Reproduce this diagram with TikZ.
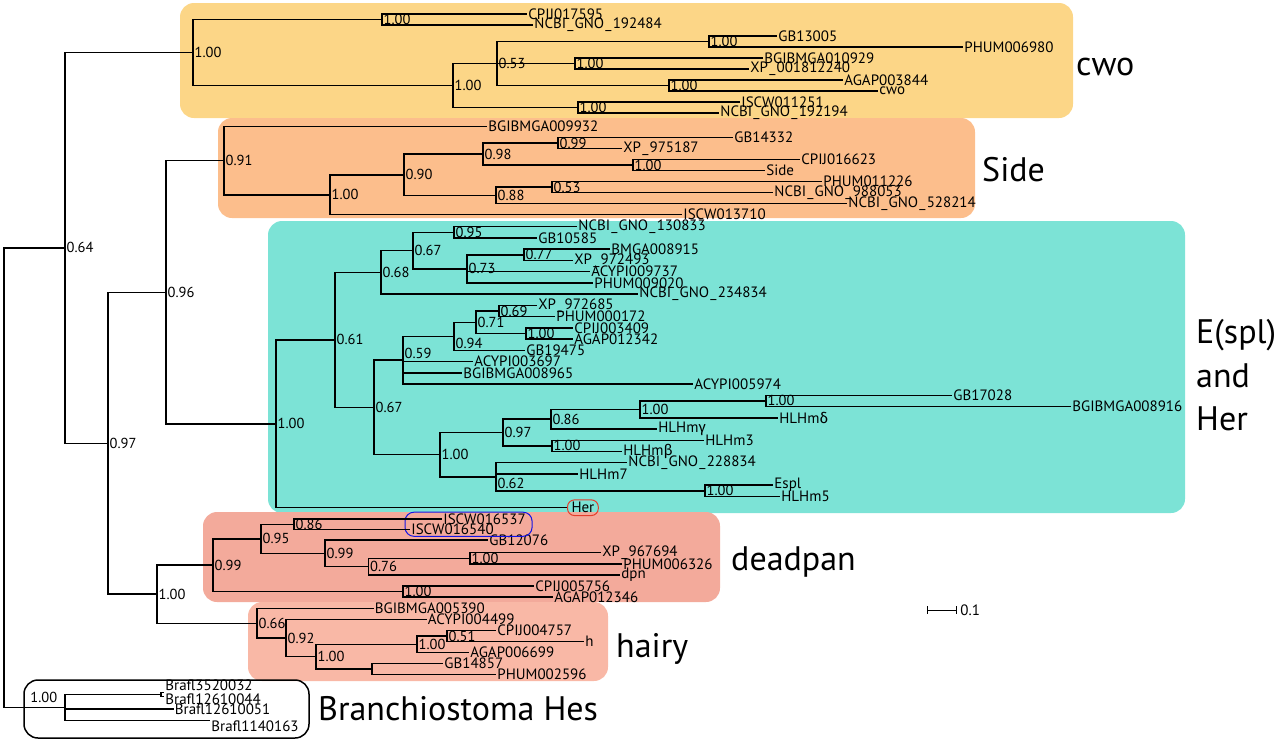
\documentclass[tikz,border=0pt]{standalone}
\usepackage{fontspec}
\setmainfont{PT Sans}
\newfontfamily\grk{Fira Sans}
\usetikzlibrary{fit}
\definecolor{cwofill}{RGB}{252,214,135}
\definecolor{sidefill}{RGB}{252,190,140}
\definecolor{esplfill}{RGB}{124,227,214}
\definecolor{dpnfill}{RGB}{243,170,155}
\definecolor{hairyfill}{RGB}{249,184,166}
\definecolor{herred}{RGB}{228,62,44}
\definecolor{isblue}{RGB}{20,20,230}
\newcommand\us{\kern1.2pt\_\kern1.2pt}
\begin{document}
\begin{tikzpicture}[x=1pt,y=-1pt,
  leaf/.style={anchor=west,inner sep=1.2pt,font=\fontsize{15}{15}\selectfont},
  supp/.style={anchor=west,inner sep=1.5pt,font=\fontsize{14.5}{15}\selectfont},
  br/.style={line width=1.5pt},
  box/.style={rounded corners=14pt},
  clade/.style={anchor=base west,inner sep=0pt,font=\fontsize{34}{40}\selectfont}]
\useasboundingbox (0,0) rectangle (1280,742);
\fill[cwofill,box] (180,3) rectangle (1073,118);
\fill[sidefill,box] (218,118) rectangle (975,218);
\fill[esplfill,box] (268,221) rectangle (1185,513);
\fill[dpnfill,box] (203,512) rectangle (720,602);
\fill[hairyfill,box] (248,602) rectangle (608,681);
\draw[br,box] (24,680) rectangle (309,738);
\node[leaf] (cpij017595) at (527,14) {CPIJ017595};
\node[leaf] (gno192484) at (533,25) {NCBI\us GNO\us 192484};
\node[leaf] (gb13005) at (777,36) {GB13005};
\node[leaf] (phum006980) at (963,47) {PHUM006980};
\node[leaf] (bgi010929) at (763,58) {BGIBMGA010929};
\node[leaf] (xp001812240) at (749,69) {XP\us 001812240};
\node[leaf] (agap003844) at (843,80) {AGAP003844};
\node[leaf] (cwoleaf) at (878,91) {cwo};
\node[leaf] (iscw011251) at (740,102) {ISCW011251};
\node[leaf] (gno192194) at (719,113) {NCBI\us GNO\us 192194};
\coordinate (cwoA) at (382,19.5);
\coordinate (cwoB) at (709,41.5);
\coordinate (cwoC) at (575,63.5);
\coordinate (cwoD) at (669,85.5);
\coordinate (cwoE) at (497,63.5);
\coordinate (cwoF) at (578,107.5);
\coordinate (cwoG) at (453,85.5);
\coordinate (cwo) at (193,52.5);
\draw[br] (cwoA) |- (cpij017595.west) (cwoA) |- (gno192484.west)
  (cwoB) |- (gb13005.west) (cwoB) |- (phum006980.west)
  (cwoC) |- (bgi010929.west) (cwoC) |- (xp001812240.west)
  (cwoD) |- (agap003844.west) (cwoD) |- (cwoleaf.west)
  (cwoF) |- (iscw011251.west) (cwoF) |- (gno192194.west)
  (cwoE) |- (cwoB) (cwoE) |- (cwoC) (cwoE) |- (cwoD)
  (cwoG) |- (cwoE) (cwoG) |- (cwoF)
  (cwo) |- (cwoA) (cwo) |- (cwoG);
\node[supp] (lcwoA) at (cwoA) {1.00};
\node[supp] (lcwoB) at (cwoB) {1.00};
\node[supp] (lcwoC) at (cwoC) {1.00};
\node[supp] (lcwoD) at (cwoD) {1.00};
\node[supp] (lcwoE) at (cwoE) {0.53};
\node[supp] (lcwoF) at (cwoF) {1.00};
\node[supp] (lcwoG) at (cwoG) {1.00};
\node[supp] (lcwo) at (cwo) {1.00};
\node[leaf] (bgi009932) at (487,126.7) {BGIBMGA009932};
\node[leaf] (gb14332) at (733,137.7) {GB14332};
\node[leaf] (xp975187) at (622,148.7) {XP\us 975187};
\node[leaf] (cpij016623) at (800,159.7) {CPIJ016623};
\node[leaf] (sideleaf) at (765,170.7) {Side};
\node[leaf] (phum011226) at (822,181.7) {PHUM011226};
\node[leaf] (gno988053) at (773,192.7) {NCBI\us GNO\us 988053};
\node[leaf] (gno528214) at (847,203.7) {NCBI\us GNO\us 528214};
\node[leaf] (iscw013710) at (682,214.7) {ISCW013710};
\coordinate (sideA) at (558,143.2);
\coordinate (sideB) at (633,165.2);
\coordinate (sideC) at (483,154.2);
\coordinate (sideD) at (552,187.2);
\coordinate (sideE) at (496,195.5);
\coordinate (sideF) at (404,174.8);
\coordinate (sideG) at (330,194.8);
\coordinate (side) at (224,160.7);
\draw[br] (sideA) |- (gb14332.west) (sideA) |- (xp975187.west)
  (sideB) |- (cpij016623.west) (sideB) |- (sideleaf.west)
  (sideC) |- (sideA) (sideC) |- (sideB)
  (sideD) |- (phum011226.west) (sideD) |- (gno988053.west)
  (sideE) |- (sideD) (sideE) |- (gno528214.west)
  (sideF) |- (sideC) (sideF) |- (sideE)
  (sideG) |- (sideF) (sideG) |- (iscw013710.west)
  (side) |- (bgi009932.west) (side) |- (sideG);
\node[supp] (lsideA) at (sideA) {0.99};
\node[supp] (lsideB) at (sideB) {1.00};
\node[supp] (lsideC) at (sideC) {0.98};
\node[supp] (lsideD) at (sideD) {0.53};
\node[supp] (lsideE) at (sideE) {0.88};
\node[supp] (lsideF) at (sideF) {0.90};
\node[supp] (lsideG) at (sideG) {1.00};
\node[supp] (lside) at (side) {0.91};
\node[leaf] (gno130833) at (577,226.7) {NCBI\us GNO\us 130833};
\node[leaf] (gb10585) at (537,237.9) {GB10585};
\node[leaf] (bmga008915) at (610,249.2) {BMGA008915};
\node[leaf] (xp972493) at (573,260.4) {XP\us 972493};
\node[leaf] (acypi009737) at (590,271.7) {ACYPI009737};
\node[leaf] (phum009020) at (593,282.9) {PHUM009020};
\node[leaf] (gno234834) at (638,294.1) {NCBI\us GNO\us 234834};
\node[leaf] (xp972685) at (537,305.4) {XP\us 972685};
\node[leaf] (phum000172) at (555,316.6) {PHUM000172};
\node[leaf] (cpij003409) at (573,327.9) {CPIJ003409};
\node[leaf] (agap012342) at (573,339.1) {AGAP012342};
\node[leaf] (gb19475) at (525,350.3) {GB19475};
\node[leaf] (acypi003697) at (473,361.6) {ACYPI003697};
\node[leaf] (bgi008965) at (462,372.8) {BGIBMGA008965};
\node[leaf] (acypi005974) at (693,384.1) {ACYPI005974};
\node[leaf] (gb17028) at (952,395.3) {GB17028};
\node[leaf] (bgi008916) at (1071,406.5) {BGIBMGA008916};
\node[leaf] (hlhmd) at (778,417.8) {HLHm{\grk δ}};
\node[leaf] (hlhmg) at (657,429.0) {HLHm{\grk γ}};
\node[leaf] (hlhm3) at (704,440.3) {HLHm3};
\node[leaf] (hlhmb) at (622,451.5) {HLHm{\grk β}};
\node[leaf] (gno228834) at (627,462.7) {NCBI\us GNO\us 228834};
\node[leaf] (hlhm7) at (578,474.0) {HLHm7};
\node[leaf] (espleaf) at (773,485.2) {Espl};
\node[leaf] (hlhm5) at (780,496.5) {HLHm5};
\node[leaf,draw=herred,line width=1pt,rounded corners=7pt,inner xsep=4pt,inner ysep=2.5pt] (her) at (567,507.7) {Her};
\coordinate (esplA) at (454,232.3);
\coordinate (esplB) at (524,254.8);
\coordinate (esplC) at (467,268.9);
\coordinate (esplD) at (413,250.6);
\coordinate (esplE) at (381,272.4);
\coordinate (esplF) at (499,311.0);
\coordinate (esplG) at (526,333.5);
\coordinate (esplH) at (476,322.3);
\coordinate (esplI) at (454,336.3);
\coordinate (esplJ) at (403,360.2);
\coordinate (esplK) at (766,400.9);
\coordinate (esplL) at (640,409.4);
\coordinate (esplM) at (551,419.2);
\coordinate (esplN) at (552,445.9);
\coordinate (esplO) at (503,432.6);
\coordinate (esplP) at (705,490.9);
\coordinate (esplQ) at (496,476.8);
\coordinate (esplR) at (440,454.7);
\coordinate (esplS) at (374,407.5);
\coordinate (esplT) at (335,339.9);
\coordinate (espl) at (276,423.8);
\draw[br] (esplA) |- (gno130833.west) (esplA) |- (gb10585.west)
  (esplB) |- (bmga008915.west) (esplB) |- (xp972493.west)
  (esplC) |- (esplB) (esplC) |- (acypi009737.west) (esplC) |- (phum009020.west)
  (esplD) |- (esplA) (esplD) |- (esplC)
  (esplE) |- (esplD) (esplE) |- (gno234834.west)
  (esplF) |- (xp972685.west) (esplF) |- (phum000172.west)
  (esplG) |- (cpij003409.west) (esplG) |- (agap012342.west)
  (esplH) |- (esplF) (esplH) |- (esplG)
  (esplI) |- (esplH) (esplI) |- (gb19475.west)
  (esplJ) |- (esplI) (esplJ) |- (acypi003697.west) (esplJ) |- (bgi008965.west) (esplJ) |- (acypi005974.west)
  (esplK) |- (gb17028.west) (esplK) |- (bgi008916.west)
  (esplL) |- (esplK) (esplL) |- (hlhmd.west)
  (esplM) |- (esplL) (esplM) |- (hlhmg.west)
  (esplN) |- (hlhm3.west) (esplN) |- (hlhmb.west)
  (esplO) |- (esplM) (esplO) |- (esplN)
  (esplP) |- (espleaf.west) (esplP) |- (hlhm5.west)
  (esplQ) |- (gno228834.west) (esplQ) |- (hlhm7.west) (esplQ) |- (esplP)
  (esplR) |- (esplO) (esplR) |- (esplQ)
  (esplS) |- (esplJ) (esplS) |- (esplR)
  (esplT) |- (esplE) (esplT) |- (esplS)
  (espl) |- (esplT) (espl) |- (her.west);
\node[supp] (lesplA) at (esplA) {0.95};
\node[supp] (lesplB) at (esplB) {0.77};
\node[supp] (lesplC) at (esplC) {0.73};
\node[supp] (lesplD) at (esplD) {0.67};
\node[supp] (lesplE) at (esplE) {0.68};
\node[supp] (lesplF) at (esplF) {0.69};
\node[supp] (lesplG) at (esplG) {1.00};
\node[supp] (lesplH) at (esplH) {0.71};
\node[supp,anchor=north west] (lesplI) at (esplI) {0.94};
\node[supp,anchor=south west] (lesplJ) at (esplJ) {0.59};
\node[supp] (lesplK) at (esplK) {1.00};
\node[supp] (lesplL) at (esplL) {1.00};
\node[supp] (lesplM) at (esplM) {0.86};
\node[supp] (lesplN) at (esplN) {1.00};
\node[supp] (lesplO) at (esplO) {0.97};
\node[supp] (lesplP) at (esplP) {1.00};
\node[supp,anchor=north west] (lesplQ) at (esplQ) {0.62};
\node[supp] (lesplR) at (esplR) {1.00};
\node[supp] (lesplS) at (esplS) {0.67};
\node[supp] (lesplT) at (esplT) {0.61};
\node[supp] (lespl) at (espl) {1.00};
\node[leaf] (iscw016537) at (442,519) {ISCW016537};
\node[leaf] (iscw016540) at (410,529.5) {ISCW016540};
\node[leaf] (gb12076) at (488,540) {GB12076};
\node[leaf] (xp967694) at (601,552.5) {XP\us 967694};
\node[leaf] (phum006326) at (622,564) {PHUM006326};
\node[leaf] (dpnleaf) at (620,575) {dpn};
\node[leaf] (cpij005756) at (534,586) {CPIJ005756};
\node[leaf] (agap012346) at (553,597) {AGAP012346};
\node[draw=isblue,line width=1pt,rounded corners=9pt,inner xsep=5pt,inner ysep=0pt,fit=(iscw016537)(iscw016540)] (iscwring) {};
\coordinate (dpnA) at (294,524.3);
\coordinate (dpnB) at (470,558.3);
\coordinate (dpnC) at (368.5,566.6);
\coordinate (dpnD) at (325,553.3);
\coordinate (dpnE) at (261,538.8);
\coordinate (dpnF) at (403,591.5);
\coordinate (dpn) at (213,565.2);
\draw[br] (dpnA) |- (iscw016537.west) (dpnA) |- (iscw016540.west)
  (dpnB) |- (xp967694.west) (dpnB) |- (phum006326.west)
  (dpnC) |- (dpnB) (dpnC) |- (dpnleaf.west)
  (dpnD) |- (gb12076.west) (dpnD) |- (dpnC)
  (dpnE) |- (dpnA) (dpnE) |- (dpnD)
  (dpnF) |- (cpij005756.west) (dpnF) |- (agap012346.west)
  (dpn) |- (dpnE) (dpn) |- (dpnF);
\node[supp] (ldpnA) at (dpnA) {0.86};
\node[supp] (ldpnB) at (dpnB) {1.00};
\node[supp] (ldpnC) at (dpnC) {0.76};
\node[supp] (ldpnD) at (dpnD) {0.99};
\node[supp] (ldpnE) at (dpnE) {0.95};
\node[supp] (ldpnF) at (dpnF) {1.00};
\node[supp] (ldpn) at (dpn) {0.99};
\node[leaf] (bgi005390) at (373.5,608.5) {BGIBMGA005390};
\node[leaf] (acypi004499) at (426.5,619.5) {ACYPI004499};
\node[leaf] (cpij004757) at (496,630.5) {CPIJ004757};
\node[leaf] (hleaf) at (584,641.5) {h};
\node[leaf] (agap006699) at (469,652.5) {AGAP006699};
\node[leaf] (gb14857) at (443,663.5) {GB14857};
\node[leaf] (phum002596) at (496,674.5) {PHUM002596};
\coordinate (hairyA) at (447,636);
\coordinate (hairyB) at (417,644.3);
\coordinate (hairyC) at (372,669);
\coordinate (hairyD) at (316,656.6);
\coordinate (hairyE) at (286,638.1);
\coordinate (hairy) at (257,623.3);
\draw[br] (hairyA) |- (cpij004757.west) (hairyA) |- (hleaf.west)
  (hairyB) |- (hairyA) (hairyB) |- (agap006699.west)
  (hairyC) |- (gb14857.west) (hairyC) |- (phum002596.west)
  (hairyD) |- (hairyB) (hairyD) |- (hairyC)
  (hairyE) |- (acypi004499.west) (hairyE) |- (hairyD)
  (hairy) |- (bgi005390.west) (hairy) |- (hairyE);
\node[supp] (lhairyA) at (hairyA) {0.51};
\node[supp] (lhairyB) at (hairyB) {1.00};
\node[supp] (lhairyD) at (hairyD) {1.00};
\node[supp] (lhairyE) at (hairyE) {0.92};
\node[supp] (lhairy) at (hairy) {0.66};
\coordinate (brafA) at (161,694.5);
\coordinate (braftipA) at (163.5,692.3);
\coordinate (braftipB) at (163.5,696.7);
\coordinate (braftipD) at (210,720.7);
\node[leaf] (braf3520032) at (164,685) {Brafl3520032};
\node[leaf] (braf12610044) at (164,699.5) {Brafl12610044};
\node[leaf] (braf12610051) at (173.5,709) {Brafl12610051};
\node[leaf,anchor=north west] (braf1140163) at (210,719) {Brafl1140163};
\coordinate (braf) at (65,707.6);
\coordinate (bb096) at (166,292.3);
\coordinate (bb100) at (157,594.2);
\coordinate (bb097) at (108,443.3);
\coordinate (bb064) at (65,247.9);
\coordinate (root) at (4,477.8);
\draw[br] (brafA) |- (braftipA) (brafA) |- (braftipB)
  (braf) |- (brafA) (braf) |- (braf12610051.west) (braf) |- (braftipD)
  (bb096) |- (side) (bb096) |- (espl)
  (bb100) |- (dpn) (bb100) |- (hairy)
  (bb097) |- (bb096) (bb097) |- (bb100)
  (bb064) |- (cwo) (bb064) |- (bb097)
  (root) |- (bb064) (root) |- (braf);
\node[supp,anchor=east] (lbraf) at (59,697) {1.00};
\node[supp] (lbb096) at (bb096) {0.96};
\node[supp] (lbb100) at (bb100) {1.00};
\node[supp] (lbb097) at (bb097) {0.97};
\node[supp] (lbb064) at (bb064) {0.64};
\node[clade] (cwolbl) at (1076,75) {cwo};
\node[clade] (sidelbl) at (982,181) {Side};
\node[clade] (espllblA) at (1196,343) {E(spl)};
\node[clade] (espllblB) at (1196,387) {and};
\node[clade] (espllblC) at (1196,430) {Her};
\node[clade] (dpnlbl) at (731,570) {deadpan};
\node[clade] (hairylbl) at (616,657) {hairy};
\node[clade] (braflbl) at (318,720) {Branchiostoma Hes};
\coordinate (scaleA) at (927,610);
\coordinate (scaleB) at (957,610);
\draw[line width=1pt,|-|] (scaleA) -- (scaleB);
\node[leaf] (scalelbl) at (959,610) {0.1};
\end{tikzpicture}
\end{document}
